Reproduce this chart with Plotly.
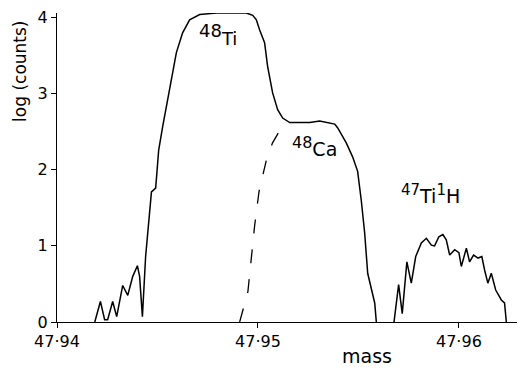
import plotly.graph_objects as go

# Solid spectrum (48Ti + 48Ca envelope)
mass_main = [47.94188, 47.94216, 47.94237, 47.94252, 47.94277, 47.94297, 47.94327, 47.94352,
             47.94377, 47.94400, 47.94411, 47.94425, 47.94441, 47.94470, 47.94491, 47.94506,
             47.94526, 47.94551, 47.94569, 47.94594, 47.94625, 47.94660, 47.94710, 47.94793,
             47.94942, 47.94974, 47.94992, 47.95008, 47.95033, 47.95048, 47.95073, 47.95098,
             47.95123, 47.95158, 47.95207, 47.95257, 47.95307, 47.95357, 47.95382, 47.95397,
             47.95440, 47.95471, 47.95496, 47.95514, 47.95531, 47.95546, 47.95564, 47.95581,
             47.95589]
log_main = [0.0, 0.27, 0.03, 0.03, 0.27, 0.07, 0.48, 0.35,
            0.60, 0.74, 0.60, 0.07, 0.86, 1.71, 1.76, 2.26,
            2.57, 2.92, 3.14, 3.54, 3.80, 3.97, 4.04, 4.06,
            4.06, 4.03, 3.97, 3.84, 3.67, 3.36, 3.01, 2.79,
            2.68, 2.62, 2.62, 2.62, 2.64, 2.61, 2.60, 2.55,
            2.35, 2.17, 1.98, 1.60, 1.17, 0.64, 0.42, 0.25,
            0.0]

# 48Ca extrapolated (dashed)
mass_ca = [47.94909, 47.94929, 47.94950, 47.94967, 47.94984, 47.95005, 47.95042, 47.95072,
           47.95116, 47.95158]
log_ca = [0.0, 0.20, 0.40, 0.84, 1.28, 1.71, 2.13, 2.35, 2.55, 2.61]

# 47Ti1H peak
mass_tih = [47.95677, 47.95700, 47.95718, 47.95741, 47.95763, 47.95785, 47.95813, 47.95838,
            47.95863, 47.95879, 47.95900, 47.95920, 47.95937, 47.95954, 47.95979, 47.96000,
            47.96012, 47.96037, 47.96053, 47.96073, 47.96095, 47.96114, 47.96128, 47.96144,
            47.96161, 47.96183, 47.96211, 47.96227, 47.96236]
log_tih = [0.0, 0.49, 0.11, 0.79, 0.51, 0.86, 1.04, 1.10,
           1.01, 1.00, 1.12, 1.15, 1.08, 0.88, 0.95, 0.91,
           0.73, 0.97, 0.79, 0.88, 0.84, 0.86, 0.68, 0.51,
           0.64, 0.42, 0.29, 0.25, 0.0]

x_ticks = [47.94, 47.95, 47.96]
x_tick_labels = ["47·94", "47·95", "47·96"]
y_ticks = [0, 1, 2, 3, 4]
y_tick_labels = ["0", "1", "2", "3", "4"]

FONT = "DejaVu Sans"
line = dict(color="black", width=1.5)

fig = go.Figure()
fig.add_trace(go.Scatter(x=mass_main, y=log_main, mode="lines", line=line,
                         hoverinfo="skip", showlegend=False, cliponaxis=False))
fig.add_trace(go.Scatter(x=mass_ca, y=log_ca, mode="lines",
                         line=dict(color="black", width=1.3, dash="14px,16px"),
                         hoverinfo="skip", showlegend=False, cliponaxis=False))
fig.add_trace(go.Scatter(x=mass_tih, y=log_tih, mode="lines", line=line,
                         hoverinfo="skip", showlegend=False, cliponaxis=False))

annos = [
    dict(x=47.94800, y=3.78, size=18,
         text="<sup><span style='font-size:18px'>48</span></sup>Ti"),
    dict(x=47.95283, y=2.30, size=19,
         text="<sup><span style='font-size:16px'>48</span></sup>Ca"),
    dict(x=47.95859, y=1.68, size=19,
         text="<sup><span style='font-size:15px'>47</span></sup>Ti<sup><span style='font-size:15px'>1</span></sup>H"),
]
for a in annos:
    fig.add_annotation(xref="x", yref="y", showarrow=False, xanchor="center", yanchor="middle",
                       font=dict(family=FONT, color="black", size=a["size"]),
                       x=a["x"], y=a["y"], text=a["text"])

fig.add_annotation(xref="paper", yref="paper", x=-0.08, y=0.81, text="log (counts)",
                   textangle=-90, showarrow=False, xanchor="center", yanchor="middle",
                   font=dict(family=FONT, size=17, color="black"))
fig.add_annotation(xref="paper", yref="paper", x=0.674, y=-0.152, text="mass",
                   showarrow=False, xanchor="center", yanchor="bottom",
                   font=dict(family=FONT, size=19, color="black"))

fig.update_layout(
    width=517, height=369,
    margin=dict(l=57, r=0, t=13, b=47),
    paper_bgcolor="white", plot_bgcolor="white",
    font=dict(family=FONT, color="black"),
)
fig.update_xaxes(range=[47.94, 47.96289], tickvals=x_ticks, ticktext=x_tick_labels,
                 ticks="outside", ticklen=5, tickcolor="black", tickwidth=1.3,
                 showline=True, linecolor="black", linewidth=1.3, showgrid=False,
                 zeroline=False, tickfont=dict(family=FONT, size=16, color="black"))
fig.update_yaxes(range=[0, 4.06], tickvals=y_ticks, ticktext=y_tick_labels,
                 ticks="outside", ticklen=5, tickcolor="black", tickwidth=1.3,
                 showline=True, linecolor="black", linewidth=1.3, showgrid=False,
                 zeroline=False, tickfont=dict(family=FONT, size=16, color="black"))

fig.write_html("out.html")
